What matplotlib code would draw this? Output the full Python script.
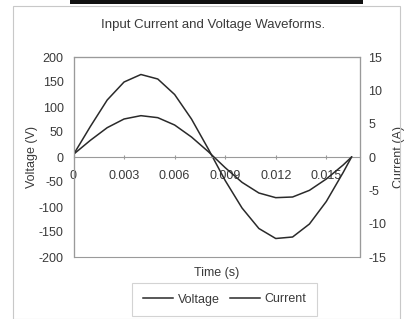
import matplotlib.pyplot as plt
import matplotlib.patches as patches

plt.rcParams['font.family'] = ['Liberation Sans', 'DejaVu Sans']

time_s = [0.0, 0.001, 0.002, 0.003, 0.004, 0.005, 0.006, 0.007, 0.008,
          0.009, 0.010, 0.011, 0.012, 0.013, 0.014, 0.015, 0.016, 0.0165]
voltage = [5, 61, 114, 150, 165, 156, 125, 76, 16,
           -47, -102, -143, -163, -160, -134, -89, -31, 0]
current = [0.4, 2.5, 4.4, 5.7, 6.2, 5.9, 4.8, 3.0, 0.8,
           -1.6, -3.8, -5.4, -6.1, -6.0, -5.0, -3.3, -1.2, 0]

x_ticks = [0, 0.003, 0.006, 0.009, 0.012, 0.015]
x_labels = ["0", "0.003", "0.006", "0.009", "0.012", "0.015"]
v_ticks = [-200, -150, -100, -50, 0, 50, 100, 150, 200]
i_ticks = [-15, -10, -5, 0, 5, 10, 15]

W, H = 409, 319
FS = 9
TXT = "#3a3a3a"
GRID = "#9a9a9a"
LINE = "#2a2a2a"

fig = plt.figure(figsize=(W / 100, H / 100), dpi=100)

# outer chart border and the dark strip on top
fig.patches.append(patches.Rectangle((13 / W, 0), (400 - 13) / W, 1 - 6 / H,
                                     transform=fig.transFigure, fill=False,
                                     edgecolor="#c8c8c8", linewidth=0.8))
fig.patches.append(patches.Rectangle((70 / W, 1 - 4 / H), (363 - 70) / W, 4 / H,
                                     transform=fig.transFigure, facecolor="#111111",
                                     edgecolor="none"))

L, R, T, B = 73.5, 360, 57, 257
ax = fig.add_axes([L / W, (H - B) / H, (R - L) / W, (B - T) / H])
ax2 = ax.twinx()

ax.plot(time_s, voltage, color=LINE, linewidth=1.1, label="Voltage")
ax2.plot(time_s, current, color=LINE, linewidth=1.1, label="Current")

ax.set_xlim(0, 0.017)
ax.set_ylim(-200, 200)
ax2.set_ylim(-15, 15)

ax.set_yticks(v_ticks)
ax.set_yticklabels([str(v) for v in v_ticks])
ax2.set_yticks(i_ticks)
ax2.set_yticklabels([str(v) for v in i_ticks])
ax.set_xticks(x_ticks)
ax.set_xticklabels(x_labels)

# x axis runs through zero
ax.spines['bottom'].set_position(('data', 0))
for a in (ax, ax2):
    for s in a.spines.values():
        s.set_color(GRID)
        s.set_linewidth(0.8)
ax2.spines['bottom'].set_visible(False)
ax.add_patch(patches.Rectangle((0, 0), 1, 1, transform=ax.transAxes, fill=False,
                               edgecolor=GRID, linewidth=0.8, clip_on=False))

ax.tick_params(axis='x', direction='inout', length=3, color=GRID, labelsize=FS,
               labelcolor=TXT, pad=8)
ax.tick_params(axis='y', direction='out', length=0, labelsize=FS, labelcolor=TXT, pad=7)
ax2.tick_params(axis='y', direction='out', length=0, labelsize=FS, labelcolor=TXT, pad=6)

ax.set_ylabel("Voltage (V)", fontsize=FS, color=TXT)
ax2.set_ylabel("Current (A)", fontsize=FS, color=TXT)
ax.yaxis.set_label_coords((38 - L) / (R - L), 0.5)
ax2.yaxis.set_label_coords((393 - L) / (R - L), 0.5)

fig.text(213 / W, 1 - 25 / H, "Input Current and Voltage Waveforms.",
         ha='center', va='center', fontsize=9.5, color=TXT)
fig.text(217 / W, 1 - 273 / H, "Time (s)", ha='center', va='center',
         fontsize=FS, color=TXT)

h1, l1 = ax.get_legend_handles_labels()
h2, l2 = ax2.get_legend_handles_labels()
leg = fig.legend(h1 + h2, l1 + l2, loc='center', bbox_to_anchor=(224.5 / W, 1 - 299.5 / H),
                 ncol=2, fontsize=FS, frameon=True, fancybox=False, handlelength=2.4,
                 handletextpad=0.4, columnspacing=0.8, borderpad=0.85)
leg.get_frame().set_edgecolor("#c8c8c8")
leg.get_frame().set_linewidth(0.8)
for t in leg.get_texts():
    t.set_color(TXT)

fig.savefig("out.png", dpi=100)
